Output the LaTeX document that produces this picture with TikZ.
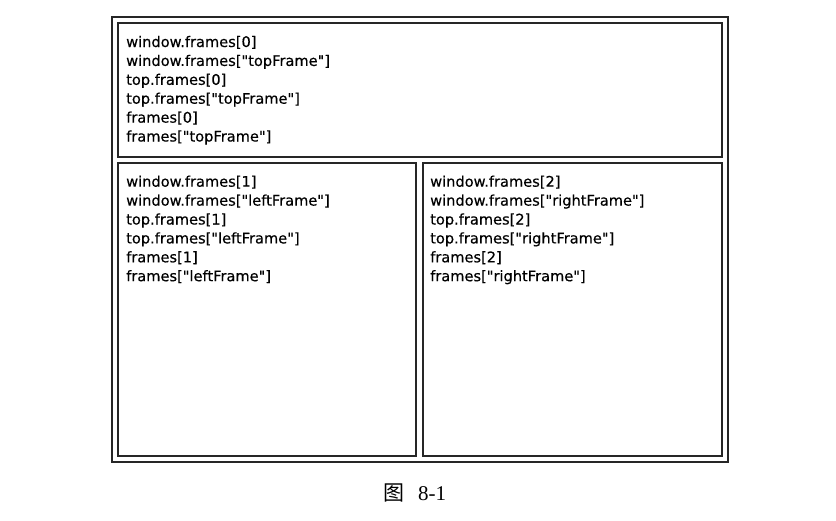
\documentclass[tikz,border=0pt]{standalone}
\usepackage{fontspec}
\setmainfont{Liberation Serif}
\newfontfamily\codefont[FakeBold=0.4]{DejaVu Sans}
\newfontfamily\cjkfont{Noto Sans CJK SC}
\begin{document}
\begin{tikzpicture}[x=1pt,y=-1pt,
  boxframe/.style={draw=black!85,line width=1.1pt},
  outerframe/.style={draw=black!85,line width=1.3pt},
  code/.style={anchor=base west,inner sep=0pt,font=\codefont\fontsize{14.6}{17}\selectfont,text=black},
  captext/.style={anchor=base west,inner sep=0pt,font=\fontsize{21}{24}\selectfont}]
\useasboundingbox (0,0) rectangle (836,520);
% frames
\draw[outerframe] (112,17) rectangle (728,462);
\draw[boxframe] (118,23) rectangle (722,157);
\draw[boxframe] (118,163) rectangle (416,456);
\draw[boxframe] (423,163) rectangle (722,456);
% top frame text
\foreach \t [count=\i] in {window.frames[0],window.frames["topFrame"],top.frames[0],top.frames["topFrame"],frames[0],frames["topFrame"]}
  \node[code] (t\i) at (126,{47+(\i-1)*18.9}) {\t};
% left frame text
\foreach \t [count=\i] in {window.frames[1],window.frames["leftFrame"],top.frames[1],top.frames["leftFrame"],frames[1],frames["leftFrame"]}
  \node[code] (l\i) at (126,{186.7+(\i-1)*18.9}) {\t};
% right frame text
\foreach \t [count=\i] in {window.frames[2],window.frames["rightFrame"],top.frames[2],top.frames["rightFrame"],frames[2],frames["rightFrame"]}
  \node[code] (r\i) at (430,{186.7+(\i-1)*18.9}) {\t};
% caption
\node[captext] (c1) at (383,500) {\cjkfont 图};
\node[captext] (c2) at (418,500) {8-1};
\end{tikzpicture}
\end{document}
